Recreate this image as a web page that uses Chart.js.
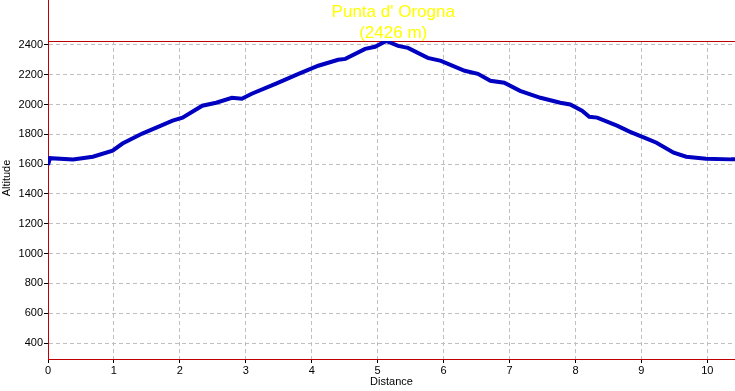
<!DOCTYPE html>
<html>
<head>
<meta charset="utf-8">
<script src="https://cdn.jsdelivr.net/npm/chart.js@4"></script>
<style>
  html, body { margin: 0; padding: 0; background: #fff; }
</style>
</head>
<body>
<canvas id="profile" width="735" height="391"></canvas>
<script>
// track profile
const distance = [0, 0.03, 0.38, 0.68, 0.98, 1.13, 1.43, 1.89, 2.04, 2.34, 2.55, 2.79, 2.94, 3.09, 3.45, 3.80, 4.10, 4.40, 4.51, 4.81, 4.96, 5.13, 5.31, 5.46, 5.76, 5.96, 6.32, 6.52, 6.71, 6.92, 7.16, 7.47, 7.77, 7.92, 8.10, 8.21, 8.33, 8.63, 8.82, 9.08, 9.23, 9.49, 9.68, 9.98, 10.36, 10.42];
const altitude = [1595, 1640, 1632, 1650, 1690, 1738, 1805, 1892, 1912, 1992, 2012, 2045, 2039, 2072, 2139, 2206, 2260, 2300, 2306, 2373, 2387, 2426, 2393, 2380, 2313, 2293, 2226, 2206, 2159, 2146, 2092, 2045, 2012, 2000, 1958, 1918, 1912, 1858, 1818, 1771, 1744, 1677, 1650, 1637, 1632, 1632];

const yTicks = [400, 600, 800, 1000, 1200, 1400, 1600, 1800, 2000, 2200, 2400];
const xTicks = [0, 1, 2, 3, 4, 5, 6, 7, 8, 9, 10];

const peakName = "Punta d' Orogna";
const peakAltitude = 2426;
const peakDistance = 5.13;
const maxDistance = 10.42;
const minAltitude = 293;

const axisRed = '#c00000';
const font = 'Liberation Sans, Arial, sans-serif';

const profile = distance.map((d, i) => ({ x: d, y: altitude[i] }));

// red max line, titles and the peak label
const decor = {
  id: 'decor',
  beforeDatasetsDraw(chart) {
    const ctx = chart.ctx;
    const area = chart.chartArea;
    const y = Math.round(chart.scales.y.getPixelForValue(peakAltitude)) + 0.5;
    ctx.save();
    ctx.strokeStyle = axisRed;
    ctx.lineWidth = 1;
    ctx.beginPath();
    ctx.moveTo(area.left, y);
    ctx.lineTo(area.right, y);
    ctx.moveTo(area.left + 0.5, 0);
    ctx.lineTo(area.left + 0.5, area.top);
    ctx.stroke();
    ctx.restore();
  },
  afterDraw(chart) {
    const ctx = chart.ctx;
    const xs = chart.scales.x;
    ctx.save();
    ctx.fillStyle = '#000';
    ctx.font = '11px ' + font;
    ctx.textAlign = 'center';
    ctx.textBaseline = 'middle';
    ctx.translate(7, 178);
    ctx.rotate(-Math.PI / 2);
    ctx.fillText('Altitude', 0, 0);
    ctx.restore();

    ctx.save();
    ctx.fillStyle = '#ffff00';
    ctx.font = '17px ' + font;
    ctx.textAlign = 'center';
    ctx.textBaseline = 'middle';
    const px = xs.getPixelForValue(peakDistance) + 7;
    ctx.fillText(peakName, px, 12);
    ctx.fillText('(' + peakAltitude + ' m)', px, 33);
    ctx.restore();
  }
};

new Chart(document.getElementById('profile'), {
  type: 'line',
  data: {
    datasets: [{
      data: profile,
      borderColor: '#0000c0',
      borderWidth: 4,
      pointRadius: 0,
      tension: 0
    }]
  },
  options: {
    responsive: false,
    animation: false,
    layout: { padding: { top: 41, left: 0, right: 0, bottom: 0 } },
    plugins: { legend: { display: false }, tooltip: { enabled: false } },
    scales: {
      x: {
        type: 'linear',
        min: 0,
        max: maxDistance,
        afterBuildTicks: s => { s.ticks = xTicks.map(v => ({ value: v })); },
        afterFit: s => { s.height = 32; },
        grid: { color: '#c0c0c0', tickColor: '#000', tickLength: 4, tickBorderDash: [] },
        border: { color: axisRed, dash: [4, 3] },
        ticks: { color: '#000', font: { family: font, size: 11 }, padding: 1, maxRotation: 0, callback: v => String(v) },
        title: { display: true, text: 'Distance', color: '#000', font: { family: font, size: 11 }, padding: { top: 0, bottom: 2 } }
      },
      y: {
        type: 'linear',
        min: minAltitude,
        max: peakAltitude,
        afterBuildTicks: s => { s.ticks = yTicks.map(v => ({ value: v })); },
        afterFit: s => { s.width = 48; },
        grid: { color: '#c0c0c0', tickColor: '#000', tickLength: 4, tickBorderDash: [] },
        border: { color: axisRed, dash: [4, 3] },
        ticks: { color: '#000', font: { family: font, size: 11 }, padding: 1, callback: v => String(v) }
      }
    }
  },
  plugins: [decor]
});
</script>
</body>
</html>
